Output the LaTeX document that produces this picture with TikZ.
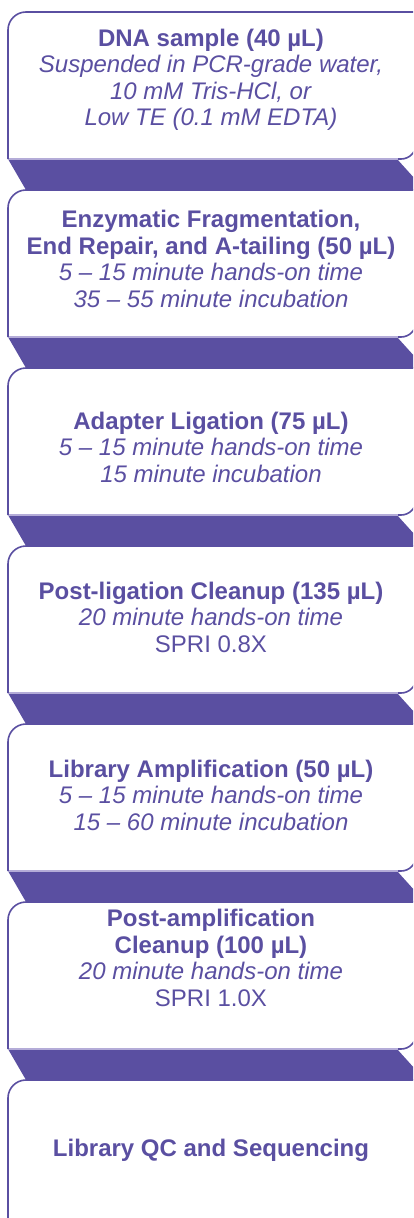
\documentclass[tikz,border=0pt]{standalone}
\usepackage{fontspec}
\setmainfont{Liberation Sans}
\usetikzlibrary{positioning}
\definecolor{kapapurple}{RGB}{90,79,161}
\definecolor{kapalight}{RGB}{180,172,216}
\tikzstyle{steptext} = [
  align=center,
  text=kapapurple,
  inner sep=0pt,
  font=\fontsize{24}{26.5}\selectfont,
]
\tikzstyle{band} = [fill=kapapurple]
\tikzstyle{edge} = [draw=kapapurple, line width=1.6pt]
\tikzstyle{lowedge} = [draw=kapalight, line width=1.2pt]

\begin{document}
\begin{tikzpicture}[x=1pt,y=-1pt]
			\useasboundingbox (0,0) rectangle (413,1218);
			\clip (0,0) rectangle (413,1218);

			\foreach \t in {12,190,...,902} {
				\fill[band] (8,\t+147) -- (26,\t+178) -- (425,\t+178) -- (397,\t+147) -- cycle;
			}
			\foreach \t in {12,190,...,1080} {
				\draw[lowedge] (8,\t+147) -- (398,\t+147);
				\draw[edge,rounded corners=18pt] (8,\t+147) -- (8,\t) -- (416,\t);
				\draw[edge,rounded corners=15pt] (416,\t+100) -- (416,\t+147) -- (398,\t+147);
			}

			\node[steptext] (s1) at (211,80) {\textbf{DNA sample (40 µL)}\\\textit{Suspended in PCR-grade water,}\\\textit{10 mM Tris-HCl, or}\\\textit{Low TE (0.1 mM EDTA)}};
			\node[steptext] (s2) at (211,259) {\textbf{Enzymatic Fragmentation,}\\\textbf{End Repair, and A-tailing (50 µL)}\\\textit{5 – 15 minute hands-on time}\\\textit{35 – 55 minute incubation}};
			\node[steptext] (s3) at (211,447) {\textbf{Adapter Ligation (75 µL)}\\\textit{5 – 15 minute hands-on time}\\\textit{15 minute incubation}};
			\node[steptext] (s4) at (211,617) {\textbf{Post-ligation Cleanup (135 µL)}\\\textit{20 minute hands-on time}\\SPRI 0.8X};
			\node[steptext] (s5) at (211,795) {\textbf{Library Amplification (50 µL)}\\\textit{5 – 15 minute hands-on time}\\\textit{15 – 60 minute incubation}};
			\node[steptext] (s6) at (211,958) {\textbf{Post-amplification}\\\textbf{Cleanup (100 µL)}\\\textit{20 minute hands-on time}\\SPRI 1.0X};
			\node[steptext] (s7) at (211,1150) {\textbf{Library QC and Sequencing}};
		\end{tikzpicture}
\end{document}
